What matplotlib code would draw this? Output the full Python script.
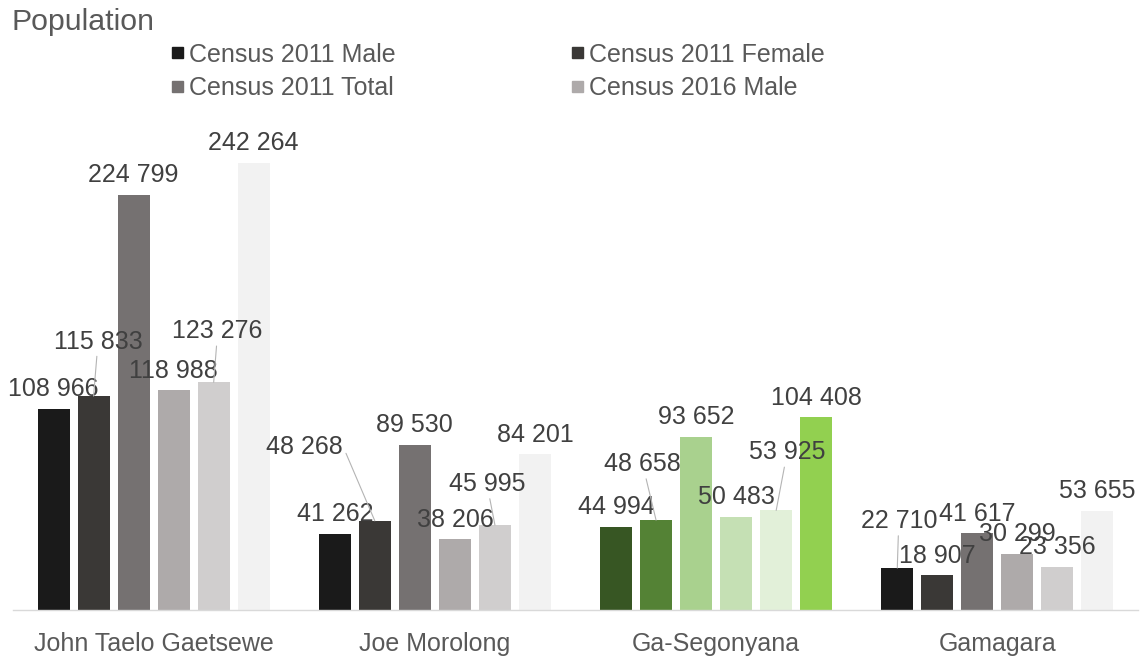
import matplotlib
matplotlib.use("Agg")
import matplotlib.pyplot as plt
import numpy as np

# ---------------- data ----------------
categories = ["John Taelo Gaetsewe", "Joe Morolong", "Ga-Segonyana", "Gamagara"]
series_names = ["Census 2011 Male", "Census 2011 Female", "Census 2011 Total",
                "Census 2016 Male", "Census 2016 Female", "Census 2016 Total"]
census2011_male = [108966, 41262, 44994, 22710]
census2011_female = [115833, 48268, 48658, 18907]
census2011_total = [224799, 89530, 93652, 41617]
census2016_male = [118988, 38206, 50483, 30299]
census2016_female = [123276, 45995, 53925, 23356]
census2016_total = [242264, 84201, 104408, 53655]
series_values = [census2011_male, census2011_female, census2011_total,
                 census2016_male, census2016_female, census2016_total]

# ---------------- styles ----------------
gray_colors = ["#1a1a1a", "#3a3836", "#757171", "#aeaaaa", "#d0cece", "#f2f2f2"]
green_colors = ["#375623", "#548235", "#a9d18e", "#c5e0b4", "#e2f0d9", "#92d050"]
highlight_category = 2  # Ga-Segonyana drawn in greens

# label offsets in pixels (dx, up) relative to bar top; default otherwise
default_offset = (0, 21.5)
custom_offsets = {
    (1, 0): (4.5, 56.5),
    (4, 0): (4, 53),
    (1, 1): (-70, 76),
    (4, 1): (-8, 43),
    (1, 2): (-13.5, 58),
    (4, 2): (11, 60),
    (0, 3): (1.5, 49),
}

plt.rcParams['font.family'] = ['Liberation Sans', 'DejaVu Sans']

W, H = 1141, 658
fig = plt.figure(figsize=(W / 100, H / 100), dpi=100)
ax = fig.add_axes([13 / W, 48 / H, 1125 / W, 510 / H])

x = np.arange(len(categories))
step = 40 / 281
width = 32 / 281
n = len(series_values)

label_color = "#404040"
fs = 18
cap_half = 0.358 * fs * 100 / 72

handles = []
for i, vals in enumerate(series_values):
    cols = [green_colors[i] if j == highlight_category else gray_colors[i]
            for j in range(len(categories))]
    pos = x + (i - (n - 1) / 2) * step
    bars = ax.bar(pos, vals, width=width, color=cols, label=series_names[i],
                  linewidth=0, zorder=2)
    handles.append(bars)
    for j, (px, v) in enumerate(zip(pos, vals)):
        txt = f"{v:,}".replace(",", " ")
        if (i, j) in custom_offsets:
            dx, up = custom_offsets[(i, j)]
            ap = dict(arrowstyle='-', color='#b4b4b4', lw=0.8,
                      shrinkA=0, shrinkB=0)
            if (i, j) == (1, 1):
                ap['relpos'] = (1.0, 0.5)
            ax.annotate(txt, xy=(px, v), xytext=(dx, up - cap_half),
                        textcoords='offset pixels', ha='center', va='baseline',
                        fontsize=fs, color=label_color, arrowprops=ap, zorder=3)
        else:
            dx, up = default_offset
            ax.annotate(txt, xy=(px, v), xytext=(dx, up - cap_half),
                        textcoords='offset pixels', ha='center', va='baseline',
                        fontsize=fs, color=label_color, zorder=3)

ax.set_xlim(-0.5, len(categories) - 0.5)
ax.set_ylim(0, 510 / 1.847e-3)
ax.set_xticks(x)
ax.set_xticklabels(categories, fontsize=fs, color="#595959")
ax.tick_params(axis='x', length=0, pad=16)
ax.set_yticks([])
for s in ['top', 'left', 'right']:
    ax.spines[s].set_visible(False)
ax.spines['bottom'].set_color('#d9d9d9')
ax.spines['bottom'].set_linewidth(1.0)
ax.patch.set_alpha(0)

# legend (row-wise order, first four series only)
order = [0, 2, 1, 3]
legend_handles = [plt.Rectangle((0, 0), 1, 1, color=gray_colors[k]) for k in order]
legend_labels = [series_names[k] for k in order]
fig.legend(legend_handles, legend_labels, ncol=2, loc='upper left',
           bbox_to_anchor=(172 / W, 1 - 42.5 / H), frameon=False,
           fontsize=fs, labelcolor="#595959", handlelength=0.44,
           handleheight=0.3, handletextpad=0.24, columnspacing=7.05,
           labelspacing=0.38, borderpad=0, borderaxespad=0)

fig.text(12 / W, 1 - 30 / H, "Population", fontsize=21.8, color="#595959",
         ha='left', va='baseline')

fig.savefig("out.png", dpi=100)
